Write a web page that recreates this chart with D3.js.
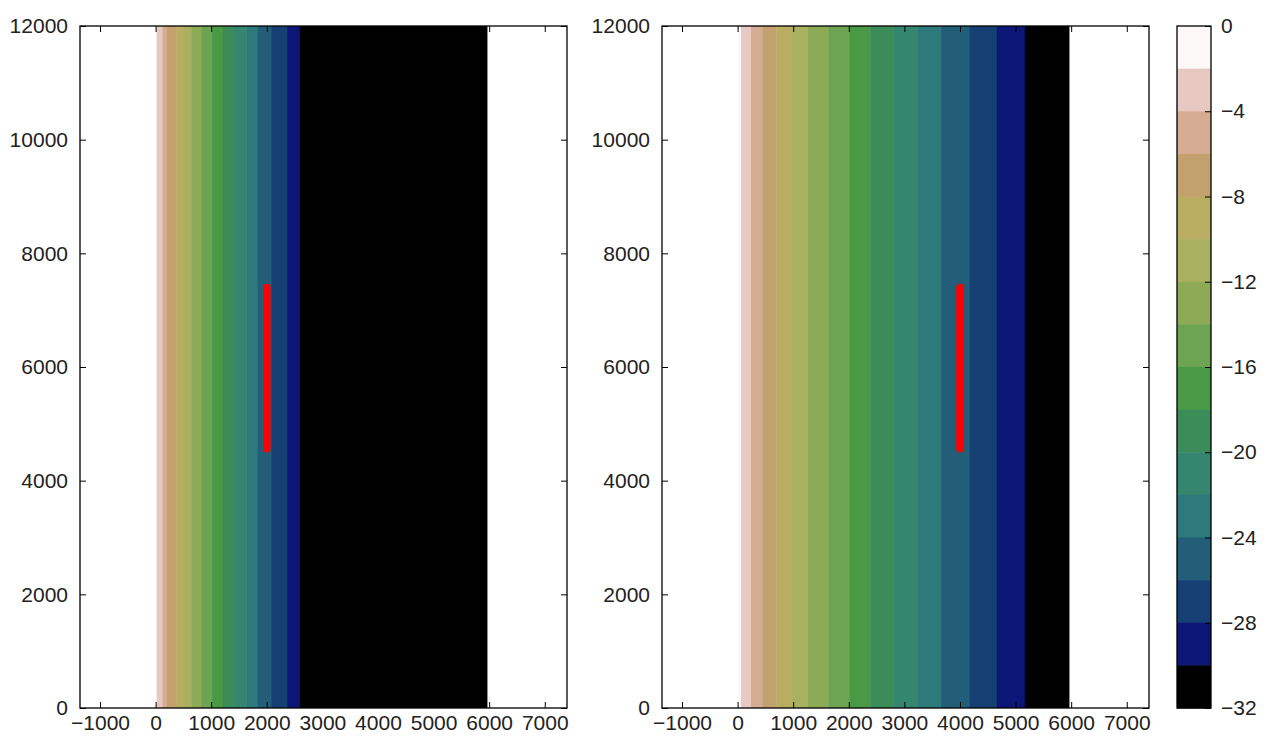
<!DOCTYPE html>
<html lang="en">
<head>
  <meta charset="utf-8" />
  <title>Contour panels</title>
  <script src="https://cdn.jsdelivr.net/npm/d3@7/dist/d3.min.js"></script>
  <style>
    body {
      margin: 0;
      background: #fff;
      font-family: "Liberation Sans", Arial, sans-serif;
    }
  </style>
</head>
<body>
  <div id="graphic"></div>

  <script>
    // contour levels (top of colorbar first) and the fill for each band below a level
    var levels = [0, -2, -4, -6, -8, -10, -12, -14, -16, -18, -20, -22, -24, -26, -28, -30, -32];
    var bandColours = ['#fcf8f8', '#e7c9c1', '#d6ad93', '#c3a16f', '#b9ad62', '#a9b060', '#8dab57', '#6da451',
      '#4a9a45', '#3c8c5a', '#34866e', '#2e797c', '#225e78', '#163f73', '#0c1677', '#000000'];
    var colourbarTicks = [0, -4, -8, -12, -16, -20, -24, -28, -32];

    // x positions where the field crosses each level, one array per panel
    var leftEdges = [0, 20, 125, 205, 370, 500, 650, 825, 1015, 1205, 1410, 1630, 1830, 2085, 2365, 2595, 5960];
    var rightEdges = [0, 61, 241, 450, 695, 978, 1265, 1634, 2010, 2385, 2802, 3230, 3660, 4165, 4662, 5166, 5960];

    // red well trace in each panel
    var leftWell = [{x: 2000, y: 4560}, {x: 2000, y: 7400}];
    var rightWell = [{x: 4000, y: 4560}, {x: 4000, y: 7400}];

    var xTicks = [-1000, 0, 1000, 2000, 3000, 4000, 5000, 6000, 7000];
    var yTicks = [0, 2000, 4000, 6000, 8000, 10000, 12000];
    var xDomain = [-1360, 7400];
    var yDomain = [0, 12000];

    var svgWidth = 1267, svgHeight = 736;
    var plotTop = 26, plotBottom = 708;
    var tickLen = 6;

    var svg = d3.select('#graphic')
      .append('svg')
      .attr('width', svgWidth)
      .attr('height', svgHeight);

    var fmt = function(d) { return d < 0 ? '\u2212' + Math.abs(d) : String(d); };

    function styleTicks(g) {
      g.selectAll('.domain').remove();
      g.selectAll('.tick line').attr('stroke', '#000');
      g.selectAll('.tick text')
        .style('font-size', '21px')
        .style('font-family', '"Liberation Sans", Arial, sans-serif')
        .attr('fill', '#222');
    }

    function drawPanel(left, right, edges, well) {
      var x = d3.scaleLinear().domain(xDomain).range([left, right]);
      var y = d3.scaleLinear().domain(yDomain).range([plotBottom, plotTop]);

      var g = svg.append('g');

      var bands = edges.slice(0, -1).map(function(d, i) {
        return {x0: d, x1: edges[i + 1], fill: bandColours[i]};
      });

      g.selectAll('rect.band')
        .data(bands)
        .enter().append('rect')
        .attr('class', 'band')
        .attr('x', function(d) { return x(d.x0); })
        .attr('width', function(d) { return x(d.x1) - x(d.x0) + 0.5; })
        .attr('y', y(yDomain[1]))
        .attr('height', y(yDomain[0]) - y(yDomain[1]))
        .attr('fill', function(d) { return d.fill; });

      g.append('path')
        .datum(well)
        .attr('d', d3.line().x(function(d) { return x(d.x); }).y(function(d) { return y(d.y); }))
        .attr('stroke', '#ff0000')
        .attr('stroke-width', 7.5)
        .attr('stroke-linecap', 'round')
        .attr('fill', 'none');

      // axes with inward ticks on all four sides
      g.append('g')
        .attr('transform', 'translate(0,' + plotBottom + ')')
        .call(d3.axisBottom(x).tickValues(xTicks).tickSizeInner(-tickLen).tickSizeOuter(0).tickPadding(7).tickFormat(fmt));
      g.append('g')
        .attr('transform', 'translate(0,' + plotTop + ')')
        .call(d3.axisTop(x).tickValues(xTicks).tickSizeInner(-tickLen).tickSizeOuter(0).tickFormat(''));
      g.append('g')
        .attr('transform', 'translate(' + left + ',0)')
        .call(d3.axisLeft(y).tickValues(yTicks).tickSizeInner(-tickLen).tickSizeOuter(0).tickPadding(12).tickFormat(fmt));
      g.append('g')
        .attr('transform', 'translate(' + right + ',0)')
        .call(d3.axisRight(y).tickValues(yTicks).tickSizeInner(-tickLen).tickSizeOuter(0).tickFormat(''));

      styleTicks(g);

      g.append('rect')
        .attr('x', left)
        .attr('y', plotTop)
        .attr('width', right - left)
        .attr('height', plotBottom - plotTop)
        .attr('fill', 'none')
        .attr('stroke', '#000')
        .attr('stroke-width', 1.3);
    }

    drawPanel(80, 567, leftEdges, leftWell);
    drawPanel(662, 1149, rightEdges, rightWell);

    // colorbar
    var cbLeft = 1177, cbRight = 1211;
    var c = d3.scaleLinear().domain([0, -32]).range([plotTop, plotBottom]);
    var cb = svg.append('g');

    cb.selectAll('rect.level')
      .data(levels.slice(0, -1).map(function(d, i) { return {v0: d, v1: levels[i + 1], fill: bandColours[i]}; }))
      .enter().append('rect')
      .attr('class', 'level')
      .attr('x', cbLeft)
      .attr('width', cbRight - cbLeft)
      .attr('y', function(d) { return c(d.v0); })
      .attr('height', function(d) { return c(d.v1) - c(d.v0) + 0.5; })
      .attr('fill', function(d) { return d.fill; });

    cb.append('g')
      .attr('transform', 'translate(' + cbRight + ',0)')
      .call(d3.axisRight(c).tickValues(colourbarTicks).tickSizeInner(-tickLen).tickSizeOuter(0).tickPadding(10).tickFormat(fmt));
    styleTicks(cb);

    cb.append('rect')
      .attr('x', cbLeft)
      .attr('y', plotTop)
      .attr('width', cbRight - cbLeft)
      .attr('height', plotBottom - plotTop)
      .attr('fill', 'none')
      .attr('stroke', '#000')
      .attr('stroke-width', 1.3);
  </script>
</body>
</html>
